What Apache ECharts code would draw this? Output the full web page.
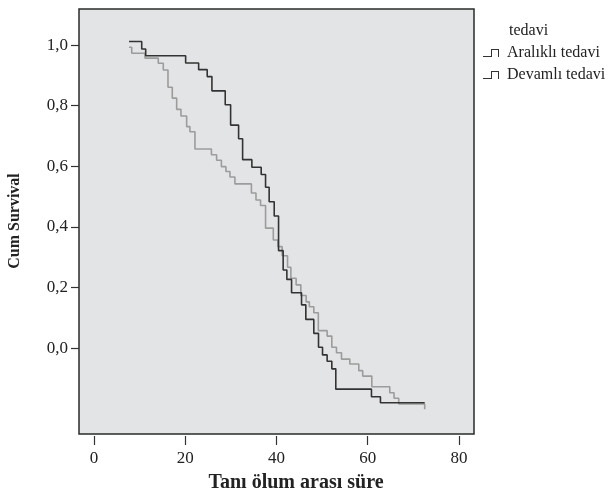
<!DOCTYPE html>
<html>
<head>
<meta charset="utf-8">
<script src="https://cdn.jsdelivr.net/npm/echarts@6/dist/echarts.min.js"></script>
<style>
html,body{margin:0;padding:0;background:#fff;}
#c{width:616px;height:496px;}
</style>
</head>
<body>
<div id="c"></div>
<script>
// Data (Kaplan-Meier step curves)
const aralikliName = 'Aralıklı tedavi';
const aralikliTime = [7.67, 10.45, 11.32, 20.08, 22.93, 24.81, 25.84, 28.76, 29.94, 31.69, 32.57, 34.6, 36.64, 37.6, 38.39, 39.5, 40.45, 41.46, 42.27, 43.3, 45.49, 46.43, 48.18, 49.21, 50.09, 51.1, 52.13, 53.0, 60.82, 62.79, 72.49];
const aralikliSurv = [1.012, 0.987, 0.965, 0.941, 0.919, 0.896, 0.849, 0.803, 0.736, 0.691, 0.622, 0.597, 0.573, 0.531, 0.483, 0.436, 0.322, 0.258, 0.227, 0.183, 0.143, 0.095, 0.049, 0.003, -0.022, -0.043, -0.068, -0.135, -0.160, -0.180, -0.180];

const devamliName = 'Devamlı tedavi';
const devamliTime = [7.67, 8.26, 11.17, 14.08, 15.18, 16.21, 17.15, 18.11, 19.05, 20.3, 21.02, 22.12, 25.73, 26.87, 27.92, 28.91, 29.79, 30.88, 34.5, 35.5, 36.5, 37.6, 39.3, 40.3, 41.24, 42.42, 43.15, 44.3, 45.33, 46.5, 47.2, 48.18, 49.17, 51.1, 52.13, 53.15, 54.25, 56.07, 58.04, 58.9, 60.9, 64.83, 65.77, 66.8, 72.49];
const devamliSurv = [0.993, 0.973, 0.957, 0.940, 0.918, 0.861, 0.825, 0.788, 0.766, 0.731, 0.714, 0.657, 0.638, 0.620, 0.599, 0.583, 0.565, 0.542, 0.512, 0.489, 0.471, 0.396, 0.357, 0.335, 0.305, 0.267, 0.231, 0.209, 0.174, 0.153, 0.137, 0.117, 0.058, 0.040, 0.003, -0.015, -0.036, -0.052, -0.074, -0.092, -0.127, -0.147, -0.165, -0.184, -0.201];

const xTicks = [0, 20, 40, 60, 80];
const yTicks = [0, 0.2, 0.4, 0.6, 0.8, 1.0];
const legendTitle = 'tedavi';
const xTitle = 'Tanı ölum arası süre';
const yTitle = 'Cum Survival';

const FONT = '"Liberation Serif", "DejaVu Serif", serif';
const zip = (a, b) => a.map((v, i) => [v, b[i]]);
const stepIcon = 'path://M0,7 L8,7 L8,0 L16,0 L16,8 L15,8 L15,1 L9,1 L9,8 L0,8 Z';

const chart = echarts.init(document.getElementById('c'), null, {renderer: 'canvas'});
chart.setOption({
  animation: false,
  backgroundColor: '#ffffff',
  textStyle: {fontFamily: FONT},
  grid: {
    left: 79, top: 9, right: 142, bottom: 62,
    show: true, borderColor: '#2a2a2a', borderWidth: 1.5,
    backgroundColor: '#e3e4e6'
  },
  xAxis: {
    type: 'value', min: -3.3, max: 83.3, offset: 2,
    axisLine: {show: false, onZero: false},
    splitLine: {show: false},
    axisTick: {show: true, length: 9, inside: false, customValues: xTicks, lineStyle: {color: '#333', width: 1.2}},
    axisLabel: {customValues: xTicks, margin: 14, color: '#222', fontFamily: FONT, fontSize: 17}
  },
  yAxis: {
    type: 'value', min: -0.283, max: 1.119,
    axisLine: {show: false, onZero: false},
    splitLine: {show: false},
    axisTick: {show: true, length: 8, customValues: yTicks, lineStyle: {color: '#333', width: 1.2}},
    axisLabel: {customValues: yTicks, margin: 11, color: '#222', fontFamily: FONT, fontSize: 17,
      formatter: v => v.toFixed(1).replace('.', ',')}
  },
  legend: {
    orient: 'vertical', left: 483, top: 45, padding: 0,
    itemWidth: 16, itemHeight: 8, itemGap: 6,
    icon: stepIcon,
    textStyle: {fontFamily: FONT, fontSize: 16, color: '#222', padding: [0, 0, 0, 3]},
    data: [
      {name: aralikliName, itemStyle: {color: '#333'}},
      {name: devamliName, itemStyle: {color: '#333'}}
    ]
  },
  graphic: [
    {type: 'text', x: 509, y: 31, style: {text: legendTitle, font: '16px ' + FONT, fill: '#222', textAlign: 'left', textVerticalAlign: 'middle'}},
    {type: 'text', x: 296, y: 483, style: {text: xTitle, font: 'bold 20px ' + FONT, fill: '#222', textAlign: 'center', textVerticalAlign: 'middle'}},
    {type: 'text', x: 15, y: 221, rotation: Math.PI / 2, style: {text: yTitle, font: 'bold 16px ' + FONT, fill: '#222', textAlign: 'center', textVerticalAlign: 'middle'}}
  ],
  series: [
    {
      name: aralikliName, type: 'line', step: 'end', showSymbol: false, symbol: 'none',
      data: zip(aralikliTime, aralikliSurv),
      lineStyle: {color: '#333333', width: 1.6}, itemStyle: {color: '#333333'}, z: 3
    },
    {
      name: devamliName, type: 'line', step: 'end', showSymbol: false, symbol: 'none',
      data: zip(devamliTime, devamliSurv),
      lineStyle: {color: '#9c9c9c', width: 1.6}, itemStyle: {color: '#9c9c9c'}, z: 2
    }
  ]
});
</script>
</body>
</html>
